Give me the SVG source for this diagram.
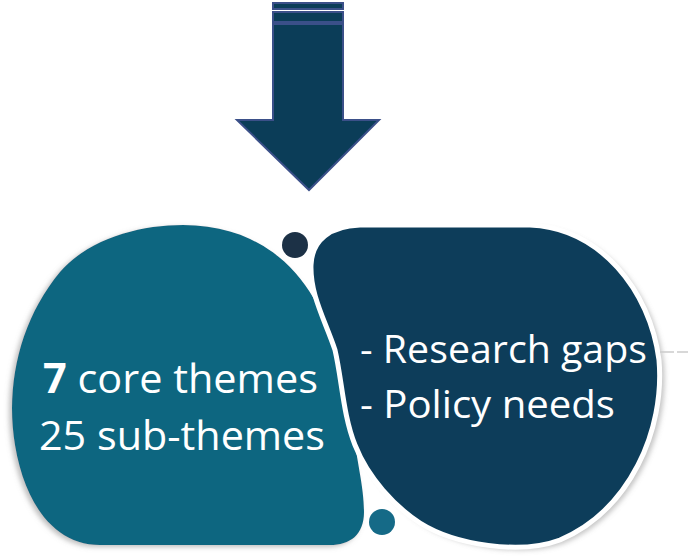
<svg xmlns="http://www.w3.org/2000/svg" width="692" height="556" viewBox="0 0 692 556">
<defs>
<style>
.arrow{fill:#0b3d58;stroke:#3b5089;stroke-width:2}
.lbl{font-family:"Open Sans","Noto Sans","Liberation Sans",sans-serif;fill:#ffffff}
</style>
<filter id="shL" x="-10%" y="-10%" width="120%" height="120%">
<feDropShadow dx="-3" dy="2" stdDeviation="2.5" flood-color="#808080" flood-opacity="0.5"/>
</filter>
<filter id="shR" x="-10%" y="-10%" width="120%" height="120%">
<feDropShadow dx="5" dy="3" stdDeviation="2.5" flood-color="#808080" flood-opacity="0.45"/>
</filter>
<path id="rbShape" d="M 360 225 L 530 225 C 600 228, 650 290, 659 360 C 665 430, 630 510, 560 540 C 520 555, 455 545, 420 523 C 395 507, 368 478, 355 445 C 343 415, 342 380, 335 350 C 325 320, 310 295, 311 265 C 312 240, 330 226, 360 225 Z"/>
</defs>
<rect width="692" height="556" fill="#ffffff"/>

<g id="arrow">
<rect class="arrow" x="273" y="3" width="70" height="6"/>
<rect class="arrow" x="273" y="12" width="70" height="10"/>
<path class="arrow" d="M 273 24 L 343 24 L 343 120 L 379 120 L 309 190 L 237 120 L 273 120 Z"/>
</g>

<g id="node-themes">
<path filter="url(#shL)" fill="#0f6680" d="M 183 225 C 240 225, 280 250, 305 285 C 330 320, 350 380, 352 420 C 356 460, 364 485, 364 512 C 364 535, 350 545, 330 545 L 100 545 C 55 545, 25 505, 15 445 C 5 385, 20 320, 60 272 C 90 238, 140 225, 183 225 Z"/>
<text class="lbl" font-size="41" x="43" y="393" textLength="275" lengthAdjust="spacingAndGlyphs"><tspan font-weight="bold">7</tspan> core themes</text>
<text class="lbl" font-size="41" x="39" y="450" textLength="286" lengthAdjust="spacingAndGlyphs">25 sub-themes</text>
</g>

<g id="node-gaps">
<use href="#rbShape" filter="url(#shR)" fill="#0d3e5a"/>
<use href="#rbShape" fill="none" stroke="#ffffff" stroke-width="5"/>
<text class="lbl" font-size="39" x="360" y="363" textLength="287" lengthAdjust="spacingAndGlyphs">- Research gaps</text>
<text class="lbl" font-size="39" x="360" y="418" textLength="255" lengthAdjust="spacingAndGlyphs">- Policy needs</text>
<line x1="660" y1="352" x2="688" y2="352" stroke="#cccccc" stroke-width="1.5" stroke-dasharray="14 3"/>
</g>

<g id="dot-top">
<circle cx="295" cy="245" r="13" fill="#1c3146"/>
</g>
<g id="dot-bottom">
<circle cx="382" cy="522" r="13" fill="#156a87"/>
</g>
</svg>
